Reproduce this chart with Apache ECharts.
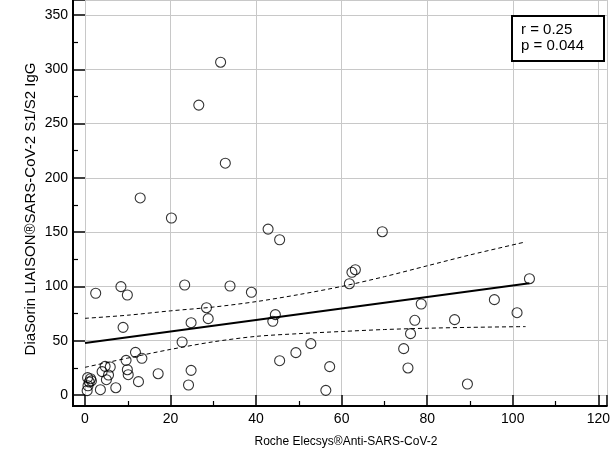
<!DOCTYPE html>
<html>
<head>
<meta charset="utf-8">
<script src="https://cdn.jsdelivr.net/npm/echarts@6/dist/echarts.min.js"></script>
<style>html,body{margin:0;padding:0;background:#fff;}#c{width:613px;height:454px;}</style>
</head>
<body>
<div id="c"></div>
<script>
// Scatter data (Roche x, DiaSorin y)
const rocheX = [31.7, 26.6, 32.8, 12.9, 20.2, 42.8, 45.5, 69.5, 2.5, 8.4, 9.9, 23.3, 33.9, 38.9, 28.4, 28.8, 24.8, 8.9, 44.5, 43.9,
  61.8, 62.4, 63.2, 78.6, 77.1, 76.1, 52.8, 49.3, 45.5, 57.2, 56.3, 74.5, 75.5, 103.9, 95.7, 101.0, 86.4, 89.4, 22.7, 11.8,
  13.3, 9.6, 4.7, 5.9, 4.0, 9.9, 5.5, 10.1, 5.0, 17.1, 12.5, 24.8, 24.2, 7.2, 3.6, 0.5, 0.7, 1.0, 1.3, 0.6, 1.5];
const diasorinY = [306.5, 267, 213.5, 181.5, 163, 152.8, 143, 150.4, 93.7, 99.8, 92.1, 101.3, 100.4, 94.6, 80.4, 70.3, 66.6, 62.3, 74, 67.9,
  102.5, 113, 115.4, 83.8, 68.8, 56.5, 47.3, 39, 31.6, 26.1, 4.3, 42.7, 24.9, 107.1, 87.8, 75.8, 69.4, 10.1, 48.8, 39.3,
  33.8, 31.9, 26.4, 25.8, 21.5, 23.3, 18.4, 18.7, 14.1, 19.6, 12.3, 22.7, 9.2, 6.7, 4.9, 4, 8.5, 12, 15, 16, 13];

// Regression line and 95% confidence band
const fitX = [0, 103.9];
const fitY = [47.9, 102.9];
const bandX = [0, 10, 20, 30, 40, 50, 60, 70, 80, 90, 103];
const bandUpper = [70.6, 73.5, 77.5, 81, 86, 92.5, 100, 109, 119, 129, 141];
const bandLower = [25.5, 34, 42, 49, 54, 56.5, 58.5, 60.3, 61.5, 62.3, 63];

const statLines = ['r = 0.25', 'p = 0.044'];
const xName = 'Roche Elecsys®Anti-SARS-CoV-2';
const yName = 'DiaSorin LIAISON®SARS-CoV-2 S1/S2 IgG';

const FONT = '"Liberation Sans", Arial, sans-serif';
const zip = (a, b) => a.map((v, i) => [v, b[i]]);

const chart = echarts.init(document.getElementById('c'), null, {renderer: 'canvas'});
chart.setOption({
  animation: false,
  backgroundColor: '#fff',
  grid: {left: 85, right: 0, top: 0, bottom: 59, containLabel: false},
  xAxis: {
    type: 'value', min: 0, max: 122, interval: 20, offset: 11,
    name: xName, nameLocation: 'middle', nameGap: 30,
    nameTextStyle: {fontFamily: FONT, fontSize: 12, color: '#000'},
    axisLine: {show: true, onZero: false, lineStyle: {color: '#000', width: 2}},
    axisTick: {show: true, inside: true, length: 11, lineStyle: {color: '#000', width: 1.5}},
    minorTick: {show: true, splitNumber: 2, length: 5, lineStyle: {color: '#000', width: 1.2}},
    splitLine: {show: true, lineStyle: {color: '#c8c8c8', width: 1}},
    axisLabel: {color: '#000', fontFamily: FONT, fontSize: 14, margin: 6,
      formatter: v => (Math.abs(v % 20) < 1e-9 ? String(v) : '')}
  },
  yAxis: {
    type: 'value', min: 0, max: 363.8, interval: 50, offset: 12,
    axisLine: {show: true, onZero: false, lineStyle: {color: '#000', width: 2}},
    axisTick: {show: true, inside: true, length: 12, lineStyle: {color: '#000', width: 1.5}},
    minorTick: {show: true, splitNumber: 2, length: 5, lineStyle: {color: '#000', width: 1.2}},
    splitLine: {show: true, lineStyle: {color: '#c8c8c8', width: 1}},
    axisLabel: {color: '#000', fontFamily: FONT, fontSize: 14, margin: 5,
      formatter: v => (Math.abs(v % 50) < 1e-9 ? String(v) : '')}
  },
  series: [
    {type: 'line', data: zip(bandX, bandUpper), showSymbol: false, smooth: 0.3, z: 2,
     lineStyle: {color: '#000', width: 1, type: [4, 3]}},
    {type: 'line', data: zip(bandX, bandLower), showSymbol: false, smooth: 0.3, z: 2,
     lineStyle: {color: '#000', width: 1, type: [4, 3]}},
    {type: 'line', data: zip(fitX, fitY), showSymbol: false, z: 3,
     lineStyle: {color: '#000', width: 2}},
    {type: 'scatter', data: zip(rocheX, diasorinY), symbol: 'circle', symbolSize: 10, z: 4,
     itemStyle: {color: 'rgba(255,255,255,0)', borderColor: '#000', borderWidth: 1.1}}
  ],
  graphic: [
    {type: 'text', x: 31, y: 209, rotation: Math.PI / 2, z: 10,
     style: {text: yName, font: '15px ' + FONT, fill: '#000', align: 'center', verticalAlign: 'middle'}},
    {type: 'line', shape: {x1: 73, y1: 406, x2: 86, y2: 406}, style: {stroke: '#000', lineWidth: 2}, z: 10},
    {type: 'line', shape: {x1: 73, y1: 394, x2: 73, y2: 407}, style: {stroke: '#000', lineWidth: 2}, z: 10},
    {type: 'rect', shape: {x: 512, y: 16, width: 92, height: 45},
     style: {fill: '#fff', stroke: '#000', lineWidth: 2}, z: 20},
    {type: 'text', left: 521, top: 22, z: 21,
     style: {text: statLines[0], font: '15px ' + FONT, fill: '#000'}},
    {type: 'text', left: 521, top: 38, z: 21,
     style: {text: statLines[1], font: '15px ' + FONT, fill: '#000'}}
  ]
});
</script>
</body>
</html>
